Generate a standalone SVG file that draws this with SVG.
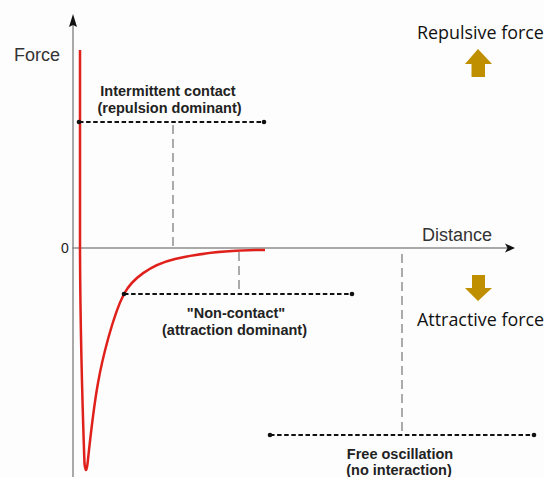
<svg xmlns="http://www.w3.org/2000/svg" width="544" height="477" viewBox="0 0 544 477">
<defs>
<style>
.axis{stroke:#8c8c8c;stroke-width:1.5;fill:none}
.dash{stroke:#111;stroke-width:1.8;stroke-dasharray:4.5 2.6;fill:none}
.vdash{stroke:#808080;stroke-width:1.3;stroke-dasharray:9 5;fill:none}
.dot{fill:#111}
.ax{font-family:"Liberation Sans",Arial,sans-serif;font-size:18px;fill:#333}
.lbl{font-family:"Liberation Sans",Arial,sans-serif;font-size:14.5px;font-weight:bold;fill:#222;text-anchor:middle}
.side{font-family:"Open Sans","Noto Sans",sans-serif;font-size:17.9px;fill:#111}
.gold{fill:#BF8F00}
</style>
</defs>
<rect width="544" height="477" fill="#fdfdfd"/>
<g id="axes">
<line class="axis" x1="73" y1="477" x2="73" y2="22"/>
<path d="M73,14 L77,27 L73,25 L69,27 Z" fill="#111"/>
<line class="axis" x1="72" y1="248" x2="508" y2="248"/>
<path d="M515,248 L505,243.5 L507.5,248 L505,252.5 Z" fill="#111"/>
<text class="ax" x="14" y="61">Force</text>
<text class="ax" x="422" y="241">Distance</text>
<text class="ax" x="61" y="253" style="font-size:14px;fill:#222">0</text>
</g>
<g id="curve">
<path d="M80,50 L80,250 C80.3,330 83.3,430 84.5,464 Q86,476 87.5,464 C89.5,445 94,405 98,383 C102,360 113,315 124,294 C132,279 150,265 175,259 C205,252 240,250 265,250" fill="none" stroke="#E0201B" stroke-width="2.5" stroke-linejoin="round"/>
</g>
<g id="connectors">
<line class="vdash" x1="173" y1="125" x2="173" y2="248"/>
<line class="vdash" x1="239" y1="252" x2="239" y2="292"/>
<line class="vdash" x1="402" y1="254" x2="402" y2="432"/>
<line class="dash" x1="79" y1="122" x2="264" y2="122"/>
<circle class="dot" cx="79" cy="122" r="2.3"/>
<circle class="dot" cx="264" cy="122" r="2.3"/>
<line class="dash" x1="124" y1="294" x2="352" y2="294"/>
<circle class="dot" cx="124" cy="294" r="2.3"/>
<circle class="dot" cx="352" cy="294" r="2.3"/>
<line class="dash" x1="270" y1="435" x2="534" y2="435"/>
<circle class="dot" cx="270" cy="435" r="2.3"/>
<circle class="dot" cx="534" cy="435" r="2.3"/>
</g>
<g id="intermittent">
<text class="lbl" x="168" y="96">Intermittent contact</text>
<text class="lbl" x="169.5" y="113">(repulsion dominant)</text>
</g>
<g id="noncontact">
<text class="lbl" x="236" y="318">"Non-contact"</text>
<text class="lbl" x="234.5" y="335">(attraction dominant)</text>
</g>
<g id="free">
<text class="lbl" x="400" y="459">Free oscillation</text>
<text class="lbl" x="399" y="475">(no interaction)</text>
</g>
<g id="repulsive">
<text class="side" x="417" y="39">Repulsive force</text>
<path class="gold" d="M478,49 L492,64 L485,64 L485,77 L471.5,77 L471.5,64 L465,64 Z"/>
</g>
<g id="attractive">
<path class="gold" d="M472,275 L485,275 L485,288 L492,288 L478,301 L465,288 L472,288 Z"/>
<text class="side" x="417" y="326">Attractive force</text>
</g>
</svg>
